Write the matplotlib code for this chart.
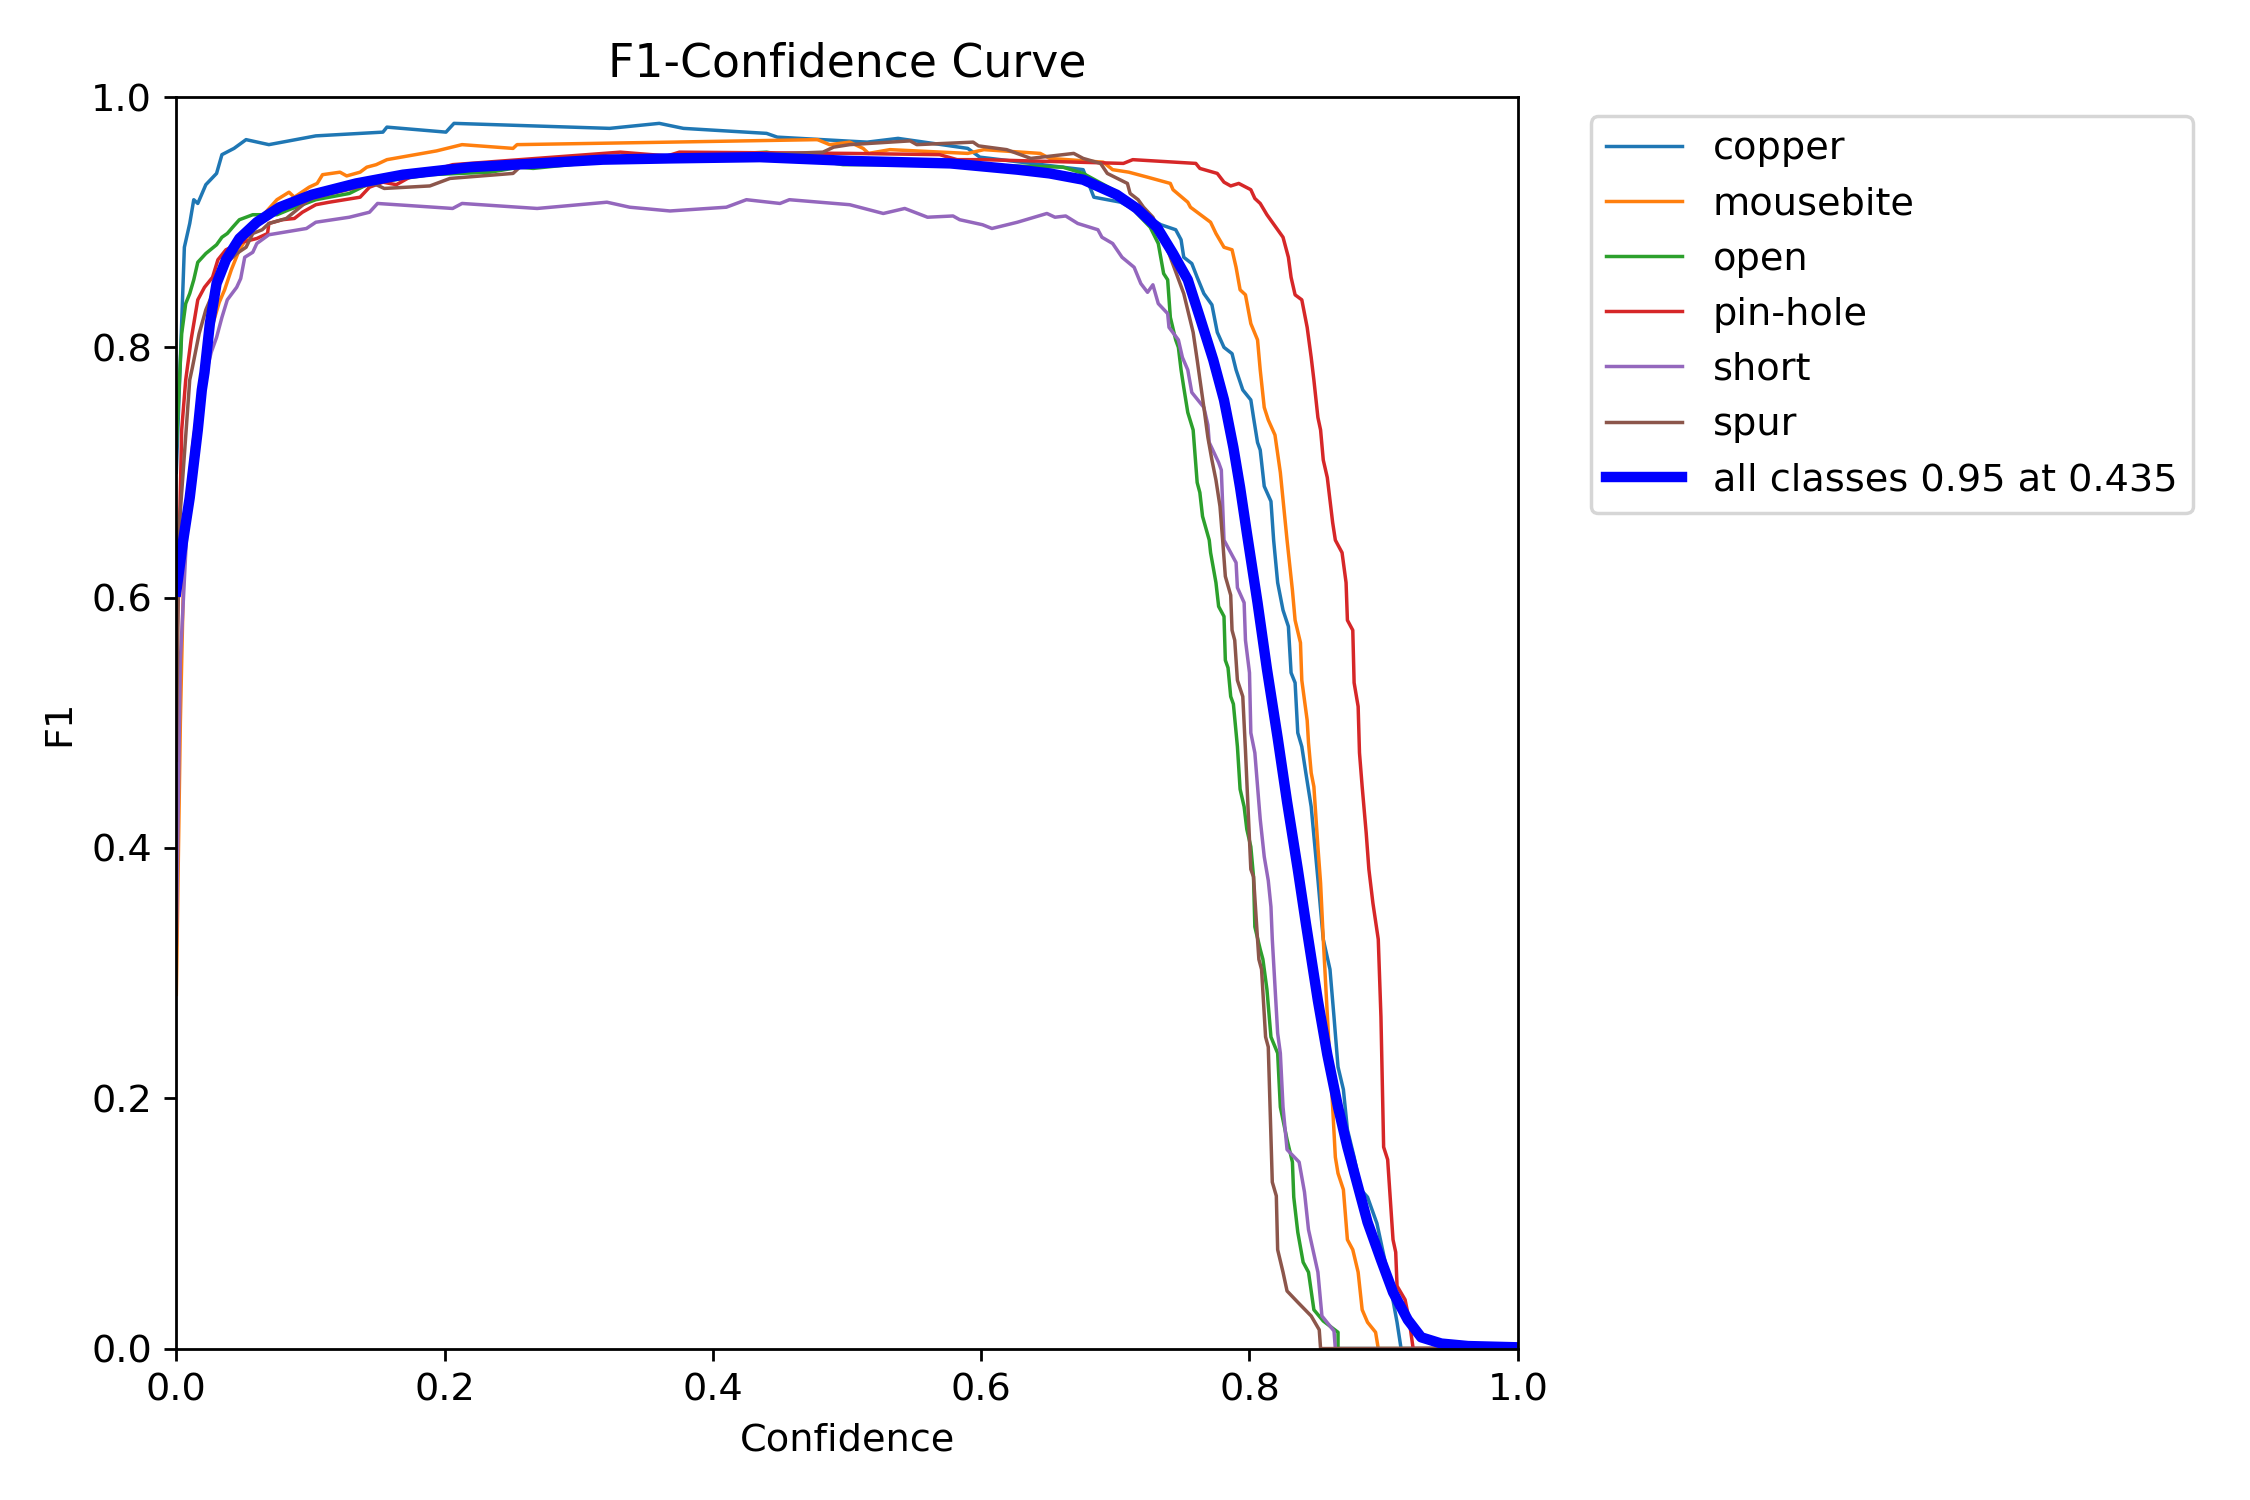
import numpy as np
import matplotlib
matplotlib.use('Agg')
import matplotlib.pyplot as plt

plt.rcParams['font.size'] = 11

# F1 values, (confidence, f1) pairs per class
copper = [(0.0, 0.70), (0.006, 0.880), (0.010, 0.899), (0.013, 0.918), (0.016, 0.915), (0.022, 0.930),
          (0.030, 0.939), (0.034, 0.954), (0.043, 0.959), (0.052, 0.966), (0.069, 0.962), (0.104, 0.969),
          (0.154, 0.972), (0.157, 0.976), (0.201, 0.972), (0.207, 0.979), (0.323, 0.975), (0.360, 0.979),
          (0.378, 0.975), (0.440, 0.971), (0.448, 0.968), (0.515, 0.964), (0.538, 0.967), (0.590, 0.959),
          (0.599, 0.952), (0.676, 0.942), (0.684, 0.920), (0.704, 0.916), (0.734, 0.898), (0.745, 0.894),
          (0.749, 0.886), (0.751, 0.872), (0.757, 0.867), (0.761, 0.856), (0.766, 0.843), (0.772, 0.834),
          (0.776, 0.812), (0.781, 0.800), (0.787, 0.795), (0.790, 0.782), (0.795, 0.766), (0.801, 0.758),
          (0.803, 0.744), (0.806, 0.724), (0.808, 0.718), (0.811, 0.689), (0.816, 0.677), (0.818, 0.646),
          (0.821, 0.612), (0.825, 0.590), (0.829, 0.577), (0.831, 0.540), (0.834, 0.532), (0.836, 0.492),
          (0.839, 0.481), (0.842, 0.460), (0.846, 0.433), (0.851, 0.375), (0.855, 0.327), (0.860, 0.303),
          (0.863, 0.265), (0.866, 0.225), (0.870, 0.207), (0.873, 0.175), (0.878, 0.153), (0.883, 0.127),
          (0.888, 0.121), (0.895, 0.100), (0.905, 0.050), (0.910, 0.021), (0.913, 0.0), (1.0, 0.0)]

mousebite = [(0.0, 0.283), (0.003, 0.50), (0.006, 0.646), (0.012, 0.72), (0.022, 0.80), (0.032, 0.836),
             (0.036, 0.846), (0.041, 0.862), (0.047, 0.878), (0.060, 0.900), (0.075, 0.918), (0.084, 0.924),
             (0.088, 0.920), (0.099, 0.928), (0.105, 0.931), (0.109, 0.938), (0.122, 0.940), (0.127, 0.937),
             (0.137, 0.940), (0.142, 0.944), (0.149, 0.946), (0.157, 0.950), (0.194, 0.957), (0.213, 0.962),
             (0.251, 0.959), (0.254, 0.962), (0.368, 0.964), (0.478, 0.966), (0.487, 0.962), (0.502, 0.964),
             (0.512, 0.959), (0.516, 0.955), (0.532, 0.958), (0.590, 0.955), (0.602, 0.958), (0.644, 0.955),
             (0.651, 0.951), (0.691, 0.948), (0.698, 0.942), (0.710, 0.940), (0.724, 0.936), (0.741, 0.931),
             (0.743, 0.926), (0.754, 0.916), (0.756, 0.912), (0.771, 0.900), (0.775, 0.891), (0.781, 0.880),
             (0.787, 0.878), (0.790, 0.864), (0.793, 0.846), (0.797, 0.842), (0.801, 0.819), (0.806, 0.806),
             (0.808, 0.782), (0.811, 0.752), (0.814, 0.742), (0.819, 0.730), (0.823, 0.700), (0.828, 0.646),
             (0.832, 0.606), (0.834, 0.582), (0.838, 0.564), (0.839, 0.534), (0.843, 0.502), (0.844, 0.484),
             (0.846, 0.460), (0.848, 0.449), (0.851, 0.401), (0.853, 0.372), (0.855, 0.327), (0.859, 0.247),
             (0.862, 0.193), (0.864, 0.153), (0.866, 0.140), (0.870, 0.127), (0.873, 0.087), (0.877, 0.079),
             (0.881, 0.061), (0.884, 0.031), (0.888, 0.021), (0.894, 0.013), (0.896, 0.0), (1.0, 0.0)]

open_ = [(0.0, 0.72), (0.004, 0.811), (0.007, 0.835), (0.010, 0.843), (0.013, 0.854), (0.016, 0.868),
         (0.022, 0.875), (0.030, 0.882), (0.034, 0.888), (0.038, 0.891), (0.042, 0.896), (0.047, 0.902),
         (0.057, 0.906), (0.075, 0.906), (0.084, 0.910), (0.104, 0.918), (0.129, 0.923), (0.144, 0.931),
         (0.189, 0.938), (0.234, 0.940), (0.256, 0.944), (0.266, 0.943), (0.330, 0.950), (0.440, 0.956),
         (0.497, 0.946), (0.580, 0.946), (0.661, 0.944), (0.676, 0.939), (0.700, 0.925), (0.726, 0.896),
         (0.732, 0.883), (0.736, 0.859), (0.739, 0.854), (0.741, 0.824), (0.745, 0.806), (0.747, 0.800),
         (0.749, 0.782), (0.751, 0.768), (0.754, 0.748), (0.758, 0.734), (0.761, 0.692), (0.763, 0.684),
         (0.765, 0.665), (0.770, 0.646), (0.771, 0.636), (0.775, 0.612), (0.777, 0.593), (0.781, 0.585),
         (0.782, 0.550), (0.784, 0.544), (0.786, 0.521), (0.788, 0.515), (0.791, 0.481), (0.793, 0.447),
         (0.796, 0.433), (0.798, 0.415), (0.801, 0.401), (0.803, 0.377), (0.804, 0.337), (0.808, 0.319),
         (0.810, 0.311), (0.813, 0.287), (0.816, 0.249), (0.821, 0.236), (0.823, 0.193), (0.828, 0.167),
         (0.832, 0.149), (0.833, 0.121), (0.836, 0.093), (0.840, 0.069), (0.844, 0.061), (0.848, 0.031),
         (0.855, 0.022), (0.866, 0.013), (0.866, 0.0), (1.0, 0.0)]

pin_hole = [(0.0, 0.55), (0.001, 0.588), (0.004, 0.734), (0.007, 0.774), (0.011, 0.806), (0.016, 0.838),
            (0.021, 0.848), (0.027, 0.856), (0.031, 0.870), (0.037, 0.878), (0.049, 0.884), (0.060, 0.887),
            (0.068, 0.891), (0.069, 0.899), (0.079, 0.902), (0.088, 0.903), (0.094, 0.908), (0.104, 0.914),
            (0.114, 0.916), (0.137, 0.920), (0.144, 0.928), (0.154, 0.932), (0.164, 0.930), (0.174, 0.936),
            (0.206, 0.946), (0.331, 0.956), (0.366, 0.953), (0.375, 0.956), (0.502, 0.955), (0.569, 0.954),
            (0.582, 0.950), (0.601, 0.950), (0.706, 0.947), (0.713, 0.950), (0.760, 0.947), (0.763, 0.943),
            (0.776, 0.939), (0.781, 0.932), (0.786, 0.929), (0.792, 0.931), (0.801, 0.926), (0.804, 0.919),
            (0.808, 0.915), (0.813, 0.906), (0.825, 0.888), (0.829, 0.872), (0.831, 0.856), (0.834, 0.842),
            (0.839, 0.838), (0.843, 0.816), (0.846, 0.792), (0.848, 0.774), (0.851, 0.744), (0.853, 0.734),
            (0.855, 0.710), (0.858, 0.696), (0.862, 0.660), (0.864, 0.646), (0.866, 0.642), (0.869, 0.636),
            (0.872, 0.612), (0.873, 0.582), (0.877, 0.574), (0.878, 0.532), (0.881, 0.513), (0.882, 0.476),
            (0.884, 0.449), (0.887, 0.412), (0.889, 0.383), (0.892, 0.356), (0.896, 0.327), (0.898, 0.265),
            (0.900, 0.161), (0.903, 0.151), (0.907, 0.087), (0.909, 0.077), (0.910, 0.050), (0.916, 0.039),
            (0.919, 0.023), (0.922, 0.0), (1.0, 0.0)]

short = [(0.0, 0.323), (0.003, 0.55), (0.010, 0.70), (0.020, 0.77), (0.026, 0.796), (0.030, 0.808),
         (0.034, 0.824), (0.038, 0.838), (0.045, 0.848), (0.048, 0.855), (0.051, 0.872), (0.057, 0.876),
         (0.060, 0.883), (0.069, 0.890), (0.097, 0.895), (0.104, 0.900), (0.129, 0.904), (0.144, 0.908),
         (0.150, 0.915), (0.206, 0.911), (0.213, 0.915), (0.269, 0.911), (0.321, 0.916), (0.338, 0.912),
         (0.368, 0.909), (0.410, 0.912), (0.425, 0.918), (0.450, 0.915), (0.457, 0.918), (0.502, 0.914),
         (0.527, 0.907), (0.543, 0.911), (0.560, 0.904), (0.579, 0.905), (0.584, 0.902), (0.601, 0.898),
         (0.608, 0.895), (0.627, 0.900), (0.649, 0.907), (0.655, 0.904), (0.663, 0.905), (0.672, 0.899),
         (0.687, 0.894), (0.690, 0.888), (0.698, 0.883), (0.705, 0.872), (0.714, 0.864), (0.719, 0.851),
         (0.724, 0.844), (0.728, 0.850), (0.732, 0.835), (0.739, 0.827), (0.740, 0.816), (0.747, 0.806),
         (0.750, 0.792), (0.754, 0.782), (0.757, 0.764), (0.766, 0.752), (0.769, 0.738), (0.770, 0.724),
         (0.777, 0.708), (0.779, 0.702), (0.781, 0.646), (0.786, 0.636), (0.790, 0.628), (0.791, 0.608),
         (0.796, 0.596), (0.797, 0.566), (0.800, 0.540), (0.801, 0.492), (0.804, 0.476), (0.807, 0.436),
         (0.808, 0.423), (0.811, 0.393), (0.814, 0.374), (0.816, 0.353), (0.817, 0.327), (0.821, 0.252),
         (0.823, 0.236), (0.825, 0.193), (0.828, 0.159), (0.837, 0.149), (0.841, 0.125), (0.844, 0.095),
         (0.851, 0.061), (0.854, 0.026), (0.863, 0.014), (0.864, 0.0), (1.0, 0.0)]

spur = [(0.0, 0.47), (0.002, 0.654), (0.010, 0.774), (0.012, 0.784), (0.017, 0.811), (0.022, 0.830),
        (0.030, 0.850), (0.037, 0.867), (0.045, 0.875), (0.052, 0.880), (0.057, 0.891), (0.064, 0.894),
        (0.069, 0.899), (0.082, 0.903), (0.090, 0.910), (0.099, 0.918), (0.112, 0.922), (0.144, 0.930),
        (0.149, 0.930), (0.155, 0.927), (0.189, 0.929), (0.204, 0.935), (0.251, 0.939), (0.258, 0.946),
        (0.380, 0.952), (0.482, 0.956), (0.490, 0.960), (0.502, 0.962), (0.547, 0.965), (0.552, 0.962),
        (0.594, 0.964), (0.598, 0.961), (0.619, 0.958), (0.637, 0.951), (0.669, 0.955), (0.676, 0.951),
        (0.689, 0.947), (0.694, 0.939), (0.709, 0.931), (0.711, 0.923), (0.717, 0.918), (0.721, 0.912),
        (0.728, 0.904), (0.740, 0.875), (0.751, 0.843), (0.758, 0.812), (0.761, 0.790), (0.766, 0.752),
        (0.769, 0.728), (0.772, 0.710), (0.775, 0.694), (0.778, 0.673), (0.780, 0.646), (0.782, 0.617),
        (0.786, 0.602), (0.787, 0.574), (0.789, 0.566), (0.791, 0.534), (0.795, 0.521), (0.797, 0.478),
        (0.799, 0.430), (0.801, 0.383), (0.803, 0.377), (0.806, 0.327), (0.807, 0.311), (0.809, 0.303),
        (0.812, 0.249), (0.814, 0.241), (0.817, 0.133), (0.820, 0.122), (0.821, 0.079), (0.825, 0.061),
        (0.828, 0.046), (0.836, 0.037), (0.846, 0.026), (0.852, 0.015), (0.853, 0.0), (1.0, 0.0)]

all_classes = [(0.0, 0.605), (0.005, 0.645), (0.010, 0.680), (0.016, 0.734), (0.019, 0.766), (0.021, 0.780),
               (0.025, 0.819), (0.030, 0.851), (0.037, 0.870), (0.047, 0.887), (0.060, 0.900), (0.077, 0.912),
               (0.101, 0.922), (0.134, 0.931), (0.169, 0.938), (0.219, 0.944), (0.269, 0.947), (0.318, 0.950),
               (0.368, 0.951), (0.435, 0.952), (0.502, 0.949), (0.577, 0.947), (0.627, 0.942), (0.651, 0.939),
               (0.676, 0.934), (0.701, 0.922), (0.716, 0.911), (0.731, 0.896), (0.743, 0.875), (0.754, 0.854),
               (0.763, 0.824), (0.773, 0.790), (0.781, 0.758), (0.788, 0.720), (0.793, 0.688), (0.798, 0.652),
               (0.806, 0.596), (0.813, 0.543), (0.821, 0.488), (0.828, 0.437), (0.836, 0.383), (0.842, 0.340),
               (0.851, 0.278), (0.858, 0.235), (0.866, 0.193), (0.873, 0.161), (0.881, 0.129), (0.888, 0.101),
               (0.898, 0.071), (0.907, 0.045), (0.918, 0.023), (0.928, 0.009), (0.943, 0.004), (0.963, 0.002),
               (1.0, 0.001)]

names = ["copper", "mousebite", "open", "pin-hole", "short", "spur"]
curves = [copper, mousebite, open_, pin_hole, short, spur]

fig, ax = plt.subplots(1, 1, figsize=(9, 6), tight_layout=True)

for name, c in zip(names, curves):
    c = np.array(c)
    ax.plot(c[:, 0], c[:, 1], linewidth=1, label=name)

a = np.array(all_classes)
i = a[:, 1].argmax()
ax.plot(a[:, 0], a[:, 1], linewidth=3, color='blue',
        label='all classes %.2f at %.3f' % (a[i, 1], a[i, 0]))

ax.set_xlabel('Confidence')
ax.set_ylabel('F1')
ax.set_xlim(0, 1)
ax.set_ylim(0, 1)
ax.legend(bbox_to_anchor=(1.04, 1), loc="upper left")
ax.set_title('F1-Confidence Curve')
fig.savefig('out.png', dpi=250)
